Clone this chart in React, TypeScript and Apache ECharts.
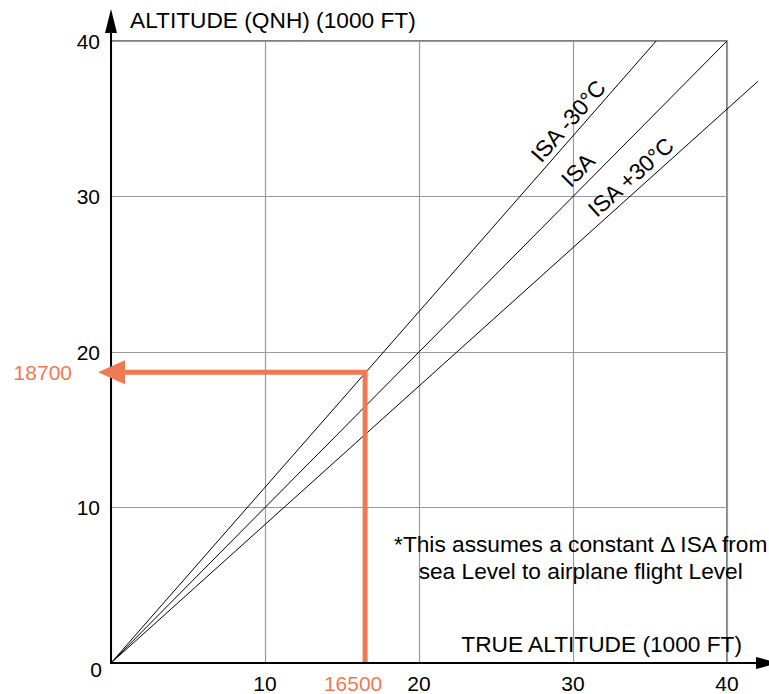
import React, { useEffect, useRef } from 'react';
import * as echarts from 'echarts';

// Axis ranges / ticks (1000 ft)
const axisMin = 0;
const axisMax = 40;
const tickInterval = 10;

// Conversion lines: [true altitude, indicated QNH altitude]
const isaMinus30: number[][] = [[0, 0], [35.4, 40]];
const isaStd: number[][] = [[0, 0], [40, 40]];
const isaPlus30: number[][] = [[0, 0], [42, 37.4]];

// Worked example
const exampleTrue = 16.5;
const exampleQnh = 18.7;
const exampleTrueLabel = '16500';
const exampleQnhLabel = '18700';
const examplePath: number[][] = [[exampleTrue, 0], [exampleTrue, exampleQnh], [0, exampleQnh]];

// Line labels: text, label centre [x, y]
const lineLabelTexts = ['ISA -30°C', 'ISA', 'ISA +30°C'];
const lineLabelCentres: number[][] = [[29.68, 34.86], [30.32, 31.72], [33.75, 31.25]];

const noteLines = ['*This assumes a constant \u0394 ISA from', 'sea Level to airplane flight Level'];
const noteCentre = [30.5, 6.77];

const FONT = '"Liberation Sans", Arial, Helvetica, sans-serif';
const ORANGE = '#EE7A53';

export default function App() {
  const ref = useRef<HTMLDivElement>(null);
  useEffect(() => {
    if (!ref.current) return;
    const chart = echarts.init(ref.current, undefined, { renderer: 'svg' });
    const lineSeries = (name: string, data: number[][]) => ({
      type: 'line',
      name,
      data,
      symbol: 'none',
      clip: true,
      lineStyle: { color: '#000', width: 1 },
      z: 3,
    });
    chart.setOption({
      animation: false,
      backgroundColor: '#fff',
      textStyle: { fontFamily: FONT },
      grid: {
        left: 111, right: 42, top: 41, bottom: 30,
        show: true, borderColor: '#555', borderWidth: 1.5, backgroundColor: 'transparent',
      },
      xAxis: {
        type: 'value', min: axisMin, max: axisMax, interval: tickInterval,
        name: 'TRUE ALTITUDE (1000 FT)',
        nameLocation: 'end', nameGap: 15,
        nameTextStyle: { fontSize: 22.7, color: '#000', align: 'right', verticalAlign: 'bottom', padding: [0, 0, 8, 0], fontFamily: FONT },
        axisLine: { show: false },
        axisTick: { show: false },
        splitLine: { show: true, lineStyle: { color: '#9a9a9a', width: 1.2 } },
        axisLabel: {
          fontSize: 21, color: '#000', margin: 10, fontFamily: FONT,
          formatter: (v: number) => (v === 0 ? '' : String(v)),
        },
      },
      yAxis: {
        type: 'value', min: axisMin, max: axisMax, interval: tickInterval,
        name: 'ALTITUDE (QNH) (1000 FT)',
        nameLocation: 'end', nameGap: 21,
        nameTextStyle: { fontSize: 22.7, color: '#000', align: 'left', verticalAlign: 'middle', padding: [0, 0, 0, 19], fontFamily: FONT },
        axisLine: { show: false },
        axisTick: { show: false },
        splitLine: { show: true, lineStyle: { color: '#9a9a9a', width: 1.2 } },
        axisLabel: {
          fontSize: 21, color: '#000', margin: 11, fontFamily: FONT,
          formatter: (v: number) => (v === 0 ? '' : String(v)),
        },
      },
      series: [
        lineSeries('ISA -30°C', isaMinus30),
        lineSeries('ISA', isaStd),
        lineSeries('ISA +30°C', isaPlus30),
        {
          type: 'line', name: 'Example', data: examplePath, symbol: 'none', clip: false,
          lineStyle: { color: ORANGE, width: 5, join: 'miter' }, z: 4,
        },
      ],
    });

    const px = (p: number[]) => chart.convertToPixel({ gridIndex: 0 }, p) as number[];
    const o = px([0, 0]);
    const top = px([0, axisMax]);
    const right = px([axisMax, 0]);
    const ex = px([0, exampleQnh]);
    const ev = px([exampleTrue, 0]);
    const graphics: any[] = [];
    // ISA +30 extension beyond the 40 grid line
    const p30end = isaPlus30[isaPlus30.length - 1];
    const atEdge = px([axisMax, (p30end[1] * axisMax) / p30end[0]]);
    const p30px = px(p30end);
    graphics.push({ type: 'line', shape: { x1: atEdge[0], y1: atEdge[1], x2: p30px[0], y2: p30px[1] }, style: { stroke: '#000', lineWidth: 1 }, z: 9 });
    // y axis line and arrow
    graphics.push({ type: 'line', shape: { x1: o[0], y1: o[1] + 1, x2: o[0], y2: top[1] - 9 }, style: { stroke: '#000', lineWidth: 2 }, z: 10 });
    graphics.push({ type: 'polygon', shape: { points: [[o[0], top[1] - 32], [o[0] - 6, top[1] - 8], [o[0] + 6, top[1] - 8]] }, style: { fill: '#000' }, z: 10 });
    // x axis line and arrow
    graphics.push({ type: 'line', shape: { x1: o[0] - 1, y1: o[1], x2: right[0] + 30, y2: o[1] }, style: { stroke: '#000', lineWidth: 2 }, z: 10 });
    graphics.push({ type: 'polygon', shape: { points: [[right[0] + 52, o[1]], [right[0] + 29, o[1] - 6], [right[0] + 29, o[1] + 6]] }, style: { fill: '#000' }, z: 10 });
    // origin label
    graphics.push({ type: 'text', x: o[0] - 15, y: o[1] + 6, style: { text: '0', fontSize: 21, fontFamily: FONT, fill: '#000', textAlign: 'center', textVerticalAlign: 'middle', align: 'center', verticalAlign: 'middle' }, z: 10 });
    // orange arrowhead
    graphics.push({ type: 'polygon', shape: { points: [[ex[0] - 13, ex[1]], [ex[0] + 14, ex[1] - 12], [ex[0] + 14, ex[1] + 12]] }, style: { fill: ORANGE }, z: 11 });
    // orange labels
    graphics.push({ type: 'text', x: ex[0] - 39, y: ex[1], style: { text: exampleQnhLabel, fontSize: 21, fontFamily: FONT, fill: ORANGE, textAlign: 'right', textVerticalAlign: 'middle', align: 'right', verticalAlign: 'middle' }, z: 10 });
    graphics.push({ type: 'text', x: ev[0] - 12, y: ev[1] + 20, style: { text: exampleTrueLabel, fontSize: 21, fontFamily: FONT, fill: ORANGE, textAlign: 'center', textVerticalAlign: 'middle', align: 'center', verticalAlign: 'middle' }, z: 10 });
    // line labels
    const lines = [isaMinus30, isaStd, isaPlus30];
    lines.forEach((ln, i) => {
      const a = px(ln[0]);
      const b = px(ln[1]);
      const ang = Math.atan2(a[1] - b[1], b[0] - a[0]);
      const p = px(lineLabelCentres[i]);
      graphics.push({
        type: 'text', x: p[0], y: p[1], rotation: ang,
        style: { text: lineLabelTexts[i], fontSize: 22.7, fontFamily: FONT, fill: '#000', textAlign: 'center', textVerticalAlign: 'middle', align: 'center', verticalAlign: 'middle' },
        z: 10,
      });
    });
    // note
    const n = px(noteCentre);
    graphics.push({
      type: 'text', x: n[0], y: n[1],
      style: { text: noteLines.join('\n'), fontSize: 22.7, lineHeight: 27, fontFamily: FONT, fill: '#000', textAlign: 'center', textVerticalAlign: 'middle', align: 'center', verticalAlign: 'middle' },
      z: 10,
    });
    chart.setOption({ graphic: graphics });
    return () => chart.dispose();
  }, []);
  return <div ref={ref} style={{ position: 'fixed', left: 0, top: 0, width: 769, height: 694, background: '#fff' }} />;
}
